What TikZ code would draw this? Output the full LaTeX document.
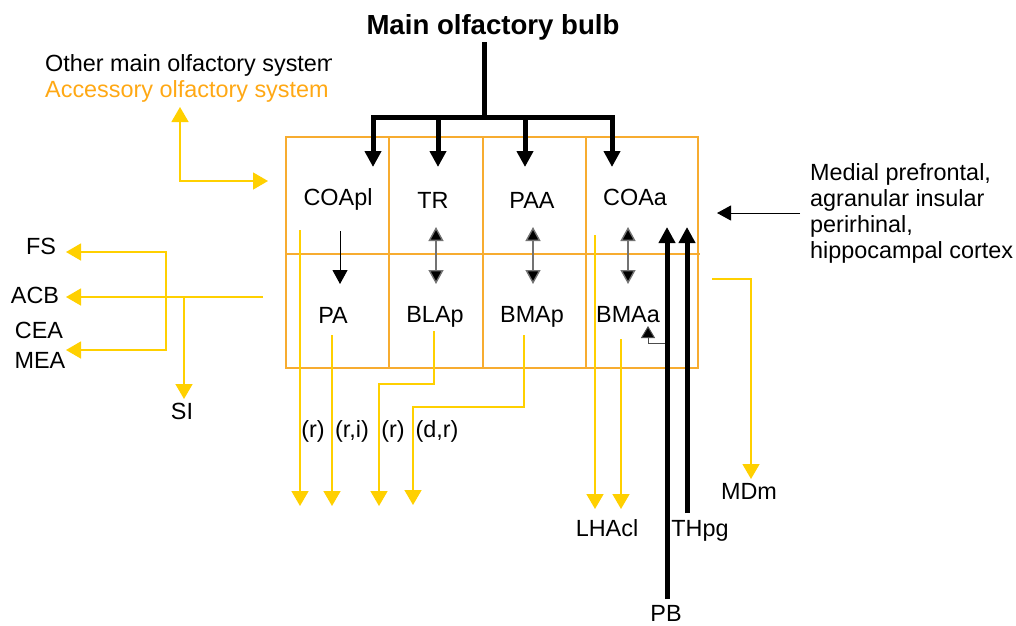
\documentclass[tikz,border=0pt]{standalone}
\usepackage{fontspec}
\setmainfont{Liberation Sans}
\usetikzlibrary{arrows.meta}
\definecolor{boxorange}{RGB}{247,172,48}
\definecolor{accorange}{RGB}{255,168,20}
\definecolor{ygold}{RGB}{255,208,0}
\begin{document}
\begin{tikzpicture}[x=1pt,y=-1pt,
  lbl/.style={font=\fontsize{23.4}{27}\selectfont, inner sep=0pt, anchor=base},
  lblw/.style={lbl, anchor=base west},
  boxline/.style={draw=boxorange, line width=1.2pt},
  thickarrow/.style={line width=5pt, line join=miter, -{Triangle[width=16pt,length=16pt]}},
  thickline/.style={line width=5pt},
  thinarrow/.style={line width=1pt, -{Triangle[width=15pt,length=14pt]}},
  dblarrow/.style={line width=1.4pt, draw=black!55, {Triangle[width=15pt,length=14pt,fill=black]}-{Triangle[width=15pt,length=14pt,fill=black]}},
  yline/.style={draw=ygold, line width=1.5pt},
  yarrow/.style={yline, -{Triangle[width=17pt,length=15pt]}},
  ydbl/.style={yline, {Triangle[width=17pt,length=15pt]}-{Triangle[width=17pt,length=15pt]}}
]
\useasboundingbox (0,0) rectangle (1016,625);

% ---------- title and other texts ----------
\node[font=\bfseries\fontsize{27.6}{32}\selectfont, inner sep=0pt, anchor=base] (mob) at (493,34) {Main olfactory bulb};
\begin{scope}
  \clip (0,0) rectangle (331,625);
  \node[lblw] (other) at (45,71) {Other main olfactory system};
\end{scope}
\node[lblw, text=accorange] (acc) at (45,97) {Accessory olfactory system};

\node[lblw] (r1) at (810,180) {Medial prefrontal,};
\node[lblw] (r2) at (810,206) {agranular insular};
\node[lblw] (r3) at (810,232) {perirhinal,};
\node[lblw] (r4) at (810,258) {hippocampal cortex};

% ---------- box grid ----------
\draw[boxline] (286,137) rectangle (698,368);
\draw[boxline] (286,254) -- (700,254);
\draw[boxline] (389,137) -- (389,369);
\draw[boxline] (483,137) -- (483,369);
\draw[boxline] (586,137) -- (586,369);

% ---------- region labels ----------
\node[lbl] (coapl) at (338,205) {COApl};
\node[lbl] (tr) at (433,208) {TR};
\node[lbl] (paa) at (532,208) {PAA};
\node[lbl] (coaa) at (635,205) {COAa};
\node[lbl] (pa) at (333,323) {PA};
\node[lbl] (blap) at (435,322) {BLAp};
\node[lbl] (bmap) at (532,322) {BMAp};
\node[lbl] (bmaa) at (628,322) {BMAa};

% ---------- outside labels ----------
\node[lbl] (fs) at (41,254) {FS};
\node[lbl] (acb) at (35,303) {ACB};
\node[lbl] (cea) at (39,338) {CEA};
\node[lbl] (mea) at (40,368) {MEA};
\node[lbl] (si) at (182,419) {SI};
\node[lbl] (l1) at (313,437) {(r)};
\node[lbl] (l2) at (352,437) {(r,i)};
\node[lbl] (l3) at (393,437) {(r)};
\node[lbl] (l4) at (437,437) {(d,r)};
\node[lbl] (lhacl) at (607,536) {LHAcl};
\node[lbl] (thpg) at (700,536) {THpg};
\node[lbl] (pb) at (666,621) {PB};
\node[lbl] (mdm) at (749,499) {MDm};

% ---------- main olfactory bulb inputs ----------
\coordinate (mobfoot) at (484,42);
\coordinate (hub) at (484,117);
\coordinate (tCOApl) at (373,167);
\coordinate (tTR) at (438,167);
\coordinate (tPAA) at (525,167);
\coordinate (tCOAa) at (612,167);
\draw[thickline] (mobfoot) -- (hub);
\draw[thickarrow] (hub) -| (tCOApl);
\draw[thickarrow] (hub) -| (tTR);
\draw[thickarrow] (hub) -| (tPAA);
\draw[thickarrow] (hub) -| (tCOAa);

% ---------- internal black arrows ----------
\coordinate (c1s) at (340,231); \coordinate (c1e) at (340,284);
\draw[thinarrow] (c1s) -- (c1e);
\coordinate (d1s) at (436,227); \coordinate (d1e) at (436,284);
\coordinate (d2s) at (533,227); \coordinate (d2e) at (533,284);
\coordinate (d3s) at (628,227); \coordinate (d3e) at (628,284);
\draw[dblarrow] (d1s) -- (d1e);
\draw[dblarrow] (d2s) -- (d2e);
\draw[dblarrow] (d3s) -- (d3e);

% ---------- PB and THpg ----------
\coordinate (pbbot) at (667,599); \coordinate (pbtip) at (667,227);
\coordinate (thbot) at (687,513); \coordinate (thtip) at (687,227);
\draw[thickarrow] (pbbot) -- (pbtip);
\draw[thickarrow] (thbot) -- (thtip);
\coordinate (sm1) at (665,343); \coordinate (sm2) at (648,326);
\draw[line width=1pt, draw=black!70, -{Triangle[width=14pt,length=12pt,fill=black]}] (sm1) -| (sm2);

% ---------- cortical input ----------
\coordinate (cs) at (800,213); \coordinate (ce) at (717,213);
\draw[thinarrow] (cs) -- (ce);

% ---------- yellow projections ----------
\coordinate (accTip) at (180,107); \coordinate (accIn) at (268,181);
\draw[ydbl] (accTip) |- (accIn);

\coordinate (acbS) at (263,297); \coordinate (acbT) at (66,297);
\draw[yarrow] (acbS) -- (acbT);
\coordinate (siS) at (184,297); \coordinate (siT) at (184,399);
\draw[yarrow] (siS) -- (siT);
\coordinate (fsT) at (66,252); \coordinate (bend) at (166,350); \coordinate (meaT) at (66,350);
\draw[ydbl] (fsT) -| (bend) -- (meaT);

\coordinate (b1s) at (300,230); \coordinate (b1e) at (300,506);
\draw[yarrow] (b1s) -- (b1e);
\coordinate (b2s) at (332,335); \coordinate (b2e) at (332,506);
\draw[yarrow] (b2s) -- (b2e);
\coordinate (b3s) at (434,331); \coordinate (b3m) at (379,384); \coordinate (b3e) at (379,506);
\draw[yarrow] (b3s) |- (b3m) -- (b3e);
\coordinate (b4s) at (524,335); \coordinate (b4m) at (413,407); \coordinate (b4e) at (413,505);
\draw[yarrow] (b4s) |- (b4m) -- (b4e);

\coordinate (h1s) at (595,235); \coordinate (h1e) at (595,509);
\draw[yarrow] (h1s) -- (h1e);
\coordinate (h2s) at (621,339); \coordinate (h2e) at (621,509);
\draw[yarrow] (h2s) -- (h2e);
\coordinate (m1s) at (712,279); \coordinate (m1e) at (751,479);
\draw[yarrow] (m1s) -| (m1e);
\end{tikzpicture}
\end{document}
